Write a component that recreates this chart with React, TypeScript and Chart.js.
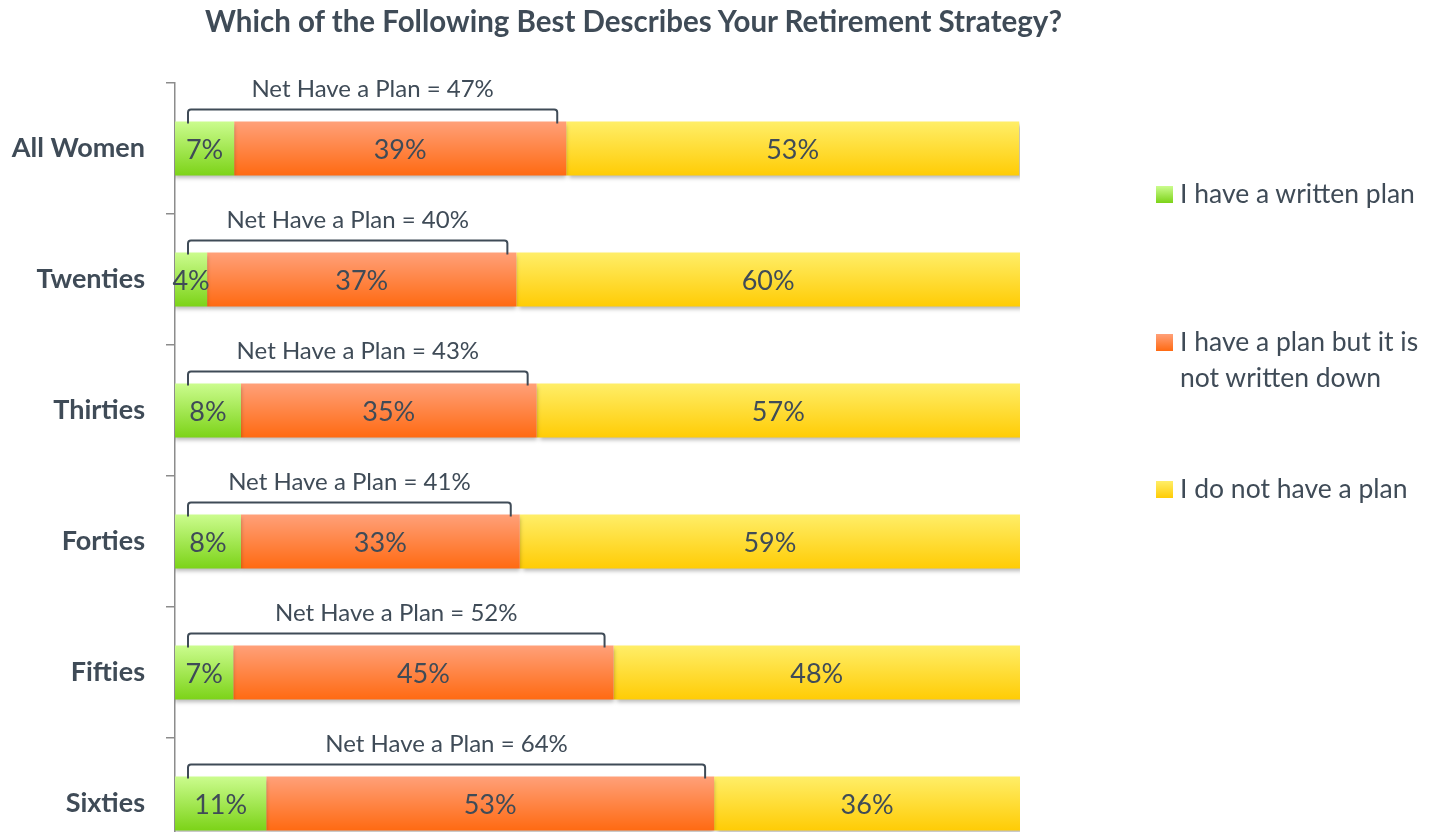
import React, { useEffect, useRef } from "react";
import { Chart, registerables } from "chart.js";

Chart.register(...registerables);

const titleText = "Which of the Following Best Describes Your Retirement Strategy?";
const categories = ["All Women", "Twenties", "Thirties", "Forties", "Fifties", "Sixties"];
const seriesNames = ["I have a written plan", "I have a plan but it is not written down", "I do not have a plan"];
// bar lengths (unrounded shares)
const writtenPlan = [7.0, 3.8, 7.8, 7.8, 6.9, 10.8];
const unwrittenPlan = [39.3, 36.6, 35.0, 33.0, 45.0, 53.0];
const noPlan = [53.6, 59.6, 57.2, 59.2, 48.1, 36.2];
// printed (rounded) labels
const writtenLabels = [7, 4, 8, 8, 7, 11];
const unwrittenLabels = [39, 37, 35, 33, 45, 53];
const noPlanLabels = [53, 60, 57, 59, 48, 36];
const netHavePlan = [47, 40, 43, 41, 52, 64];

const FONT = "Lato, 'Open Sans', sans-serif";
const TEXT = "#3f4b57";
const BAR_PCT = 0.412;
const gradStops = [
  ["#cbfc8e", "#7cd318"],
  ["#ffa079", "#ff6a12"],
  ["#ffee68", "#ffcc05"],
];
const segmentLabels = [writtenLabels, unwrittenLabels, noPlanLabels];

function makeGradient(i: number) {
  return (ctx: any) => {
    const chart = ctx.chart;
    const ys = chart.scales && chart.scales.y;
    const solid = gradStops[i][1];
    if (!chart.chartArea || !ys || ctx.type !== "data") return solid;
    const yc = ys.getPixelForValue(ctx.dataIndex);
    const band = Math.abs(ys.getPixelForValue(1) - ys.getPixelForValue(0));
    const half = (band * BAR_PCT) / 2;
    if (!isFinite(yc) || !isFinite(half) || half <= 0) return solid;
    const g = chart.ctx.createLinearGradient(0, yc - half, 0, yc + half);
    g.addColorStop(0, gradStops[i][0]);
    g.addColorStop(1, gradStops[i][1]);
    return g;
  };
}

const overlayPlugin = {
  id: "overlay",
  beforeDatasetDraw(chart: any, args: any) {
    const ctx = chart.ctx;
    const last = args.index === chart.data.datasets.length - 1;
    ctx.save();
    ctx.shadowColor = "rgba(0,0,0,0.28)";
    ctx.shadowBlur = 4;
    ctx.shadowOffsetX = last ? 3 : 0;
    ctx.shadowOffsetY = 3;
  },
  afterDatasetDraw(chart: any) {
    chart.ctx.restore();
  },
  afterDatasetsDraw(chart: any) {
    const ctx = chart.ctx;
    ctx.save();
    ctx.fillStyle = TEXT;
    ctx.font = `27px ${FONT}`;
    ctx.textAlign = "center";
    ctx.textBaseline = "alphabetic";
    chart.data.datasets.forEach((ds: any, di: number) => {
      const meta = chart.getDatasetMeta(di);
      meta.data.forEach((el: any, idx: number) => {
        const cx = (el.x + el.base) / 2;
        ctx.fillText(`${segmentLabels[di][idx]}%`, cx, el.y + 10);
      });
    });
    const xs = chart.scales.x;
    const ys = chart.scales.y;
    const band = Math.abs(ys.getPixelForValue(1) - ys.getPixelForValue(0));
    const half = (band * BAR_PCT) / 2;
    ctx.strokeStyle = TEXT;
    ctx.lineWidth = 2;
    ctx.font = `24px ${FONT}`;
    categories.forEach((_, i) => {
      const top = ys.getPixelForValue(i) - half;
      const left = xs.getPixelForValue(0) + 13;
      const right = xs.getPixelForValue(writtenPlan[i] + unwrittenPlan[i]) - 9;
      const ly = top - 12;
      const r = 3;
      ctx.beginPath();
      ctx.moveTo(left, top + 2);
      ctx.lineTo(left, ly + r);
      ctx.quadraticCurveTo(left, ly, left + r, ly);
      ctx.lineTo(right - r, ly);
      ctx.quadraticCurveTo(right, ly, right, ly + r);
      ctx.lineTo(right, top + 2);
      ctx.stroke();
      ctx.fillText(`Net Have a Plan = ${netHavePlan[i]}%`, (left + right) / 2, top - 25);
    });
    ctx.restore();
  },
};

export default function App() {
  const ref = useRef<HTMLCanvasElement>(null);
  useEffect(() => {
    if (!ref.current) return;
    const chart = new Chart(ref.current, {
      type: "bar",
      data: {
        labels: categories,
        datasets: [writtenPlan, unwrittenPlan, noPlan].map((d, i) => ({
          label: seriesNames[i],
          data: d,
          backgroundColor: makeGradient(i),
          borderWidth: 0,
          barPercentage: BAR_PCT,
          categoryPercentage: 1,
        })),
      },
      options: {
        indexAxis: "y",
        responsive: false,
        animation: false,
        devicePixelRatio: 1,
        layout: { padding: { top: 83, bottom: 11, left: 0, right: 423 } },
        plugins: {
          legend: { display: false },
          tooltip: { enabled: false },
          title: { display: false },
        },
        scales: {
          x: { stacked: true, min: 0, max: 100, display: false },
          y: {
            stacked: true,
            afterFit: (s: any) => {
              s.width = 175;
              s.paddingTop = 0;
              s.paddingBottom = 0;
            },
            border: { display: true, color: "#8c8c8c", width: 1.5 },
            grid: {
              offset: true,
              drawOnChartArea: false,
              drawTicks: true,
              tickLength: 9,
              color: "#8c8c8c",
              lineWidth: 1.5,
            },
            ticks: {
              padding: 21,
              color: TEXT,
              font: { family: FONT, size: 27, weight: "bold" },
            },
          },
        },
      },
      plugins: [overlayPlugin],
    } as any);
    return () => chart.destroy();
  }, []);

  const legendTops = [175, 323, 470];
  return (
    <div style={{ position: "fixed", left: 0, top: 0, width: 1443, height: 832, overflow: "hidden", background: "#fff", fontFamily: FONT }}>
      <canvas ref={ref} width={1443} height={880} style={{ position: "absolute", left: 0, top: 0, width: 1443, height: 880 }} />
      <div style={{ position: "absolute", left: 0, width: 1267, top: 3, textAlign: "center", fontWeight: "bold", fontSize: 29.5, color: TEXT, lineHeight: "36px", whiteSpace: "nowrap" }}>
        {titleText}
      </div>
      {seriesNames.map((name, i) => (
        <div key={name} style={{ position: "absolute", left: 1156, top: legendTops[i], width: 287, color: TEXT, fontSize: 26.5, lineHeight: "36px" }}>
          <span style={{ position: "absolute", left: 0, top: 11, width: 17, height: 17, background: `linear-gradient(${gradStops[i][0]}, ${gradStops[i][1]})` }} />
          <div style={{ marginLeft: 24, width: 255 }}>{name}</div>
        </div>
      ))}
    </div>
  );
}
